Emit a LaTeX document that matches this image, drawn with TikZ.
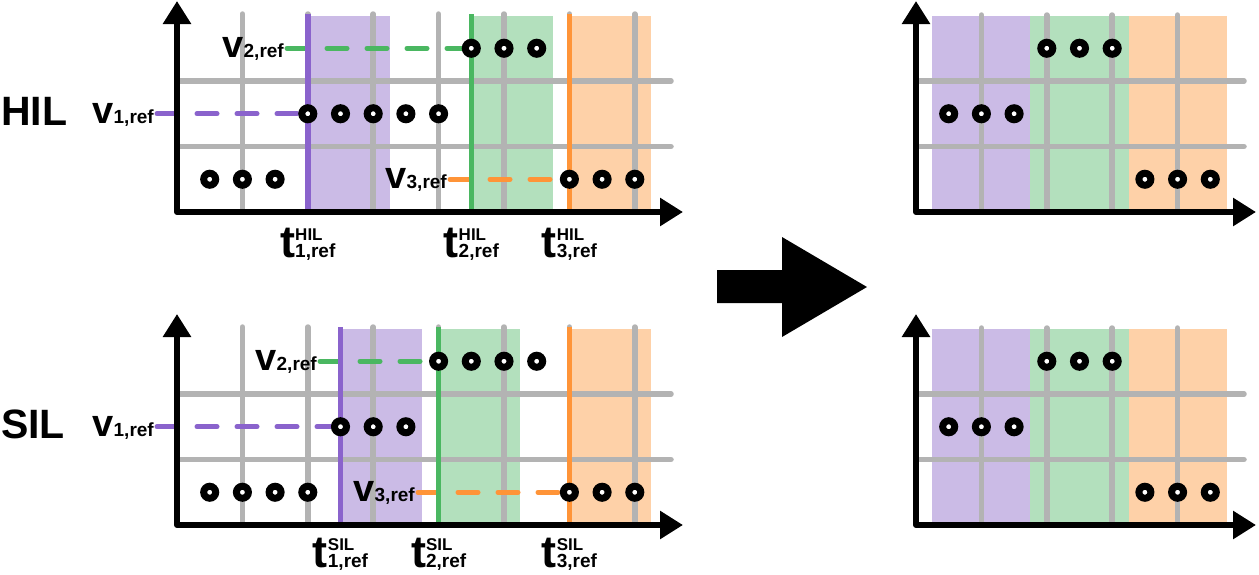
\documentclass[tikz,border=0pt]{standalone}
\usepackage{fontspec}
\setmainfont{Liberation Sans}
\usetikzlibrary{arrows.meta}
\definecolor{pline}{HTML}{8A63CC}
\definecolor{pfill}{HTML}{CBBBE6}
\definecolor{gline}{HTML}{4AB761}
\definecolor{gfill}{HTML}{B3E0BD}
\definecolor{oline}{HTML}{FF9438}
\definecolor{ofill}{HTML}{FED1A8}
\definecolor{gridgray}{HTML}{B3B3B3}
\newcommand\mytlab[2]{{\fontsize{45}{45}\selectfont t}\rlap{\raisebox{16.5pt}{\fontsize{17}{17}\selectfont #1}}{\fontsize{19}{19}\selectfont #2,ref}}
\newcommand\myvlab[1]{{\fontsize{38}{38}\selectfont v}{\fontsize{19}{19}\selectfont #1,ref}}
\tikzset{
  gridline/.style={line width=5.5pt, draw=gridgray, line cap=round},
  axisline/.style={line width=6pt, line join=round, arrows={Triangle[length=23pt,width=27pt]-Triangle[length=23pt,width=27pt]}},
  dot/.style={circle, draw=black, fill=white, line width=7pt, minimum size=12pt, inner sep=0pt},
  refline/.style={line width=5.5pt},
  dashref/.style={line width=5pt, line cap=round, dash pattern=on 20pt off 20pt},
  vlabel/.style={anchor=base east, inner sep=0pt, font=\bfseries},
  tlabel/.style={anchor=base, inner sep=0pt, font=\bfseries},
  biglabel/.style={anchor=base west, inner sep=0pt, font=\fontsize{41}{41}\selectfont\bfseries}
}
\begin{document}
\begin{tikzpicture}[x=1pt,y=-1pt]
\useasboundingbox (0,0) rectangle (1259,574);
% ---------- fills
% HIL left
\fill[pfill] (307.8,16) rectangle (389.55,212);
\fill[gfill] (471.3,16) rectangle (553.05,212);
\fill[ofill] (569.4,16) rectangle (651.15,212);
% SIL left
\fill[pfill] (340.5,329) rectangle (422.25,525);
\fill[gfill] (438.6,329) rectangle (520.35,525);
\fill[ofill] (569.4,329) rectangle (651.15,525);
% right charts
\foreach \oy in {212,525}{
  \fill[pfill] (932.35,\oy-196) rectangle (1030.45,\oy);
  \fill[gfill] (1030.45,\oy-196) rectangle (1128.55,\oy);
  \fill[ofill] (1128.55,\oy-196) rectangle (1226.65,\oy);
}
% ---------- grids
\foreach \oy in {212,525}{
  \foreach \gx in {242.4,307.8,373.2,438.6,504.0,569.4,634.8}
    \draw[gridline] (\gx,\oy-198) -- (\gx,\oy);
  \foreach \gy in {65.5,131}
    \draw[gridline] (177,\oy-\gy) -- (671,\oy-\gy);
  \foreach \gx in {981.4,1046.8,1112.2,1177.6}
    \draw[gridline] (\gx,\oy-197) -- (\gx,\oy);
  \foreach \gy in {65.5,131}
    \draw[gridline] (916,\oy-\gy) -- (1244,\oy-\gy);
}
% ---------- circle positions
\foreach \k/\r in {0/0,1/0,2/0,3/1,4/1,5/1,6/1,7/1,8/2,9/2,10/2,11/0,12/0,13/0}
  \coordinate (hp\k) at ({177+32.7*(\k+1)},{212-32.75-65.5*\r});
\foreach \k/\r in {0/0,1/0,2/0,3/0,4/1,5/1,6/1,7/2,8/2,9/2,10/2,11/0,12/0,13/0}
  \coordinate (sp\k) at ({177+32.7*(\k+1)},{525-32.75-65.5*\r});
% ---------- dashed reference lines
\coordinate (hv1) at (157,113.75);
\coordinate (hv2) at (287,48.25);
\coordinate (hv3) at (450,179.25);
\coordinate (sv1) at (157,426.75);
\coordinate (sv2) at (320,361.25);
\coordinate (sv3) at (418,492.25);
\draw[dashref,pline] (hv1) -- (hp3);
\draw[dashref,gline] (hv2) -- (hp8);
\draw[dashref,oline] (hv3) -- (hp11);
\draw[dashref,pline] (sv1) -- (sp4);
\draw[dashref,gline] (sv2) -- (sp7);
\draw[dashref,oline] (sv3) -- (sp11);
% ---------- reference time lines
\coordinate (ht1) at (307.8,212); \coordinate (ht1top) at (307.8,14);
\coordinate (ht2) at (471.3,212); \coordinate (ht2top) at (471.3,14);
\coordinate (ht3) at (569.4,212); \coordinate (ht3top) at (569.4,14);
\coordinate (st1) at (340.5,525); \coordinate (st1top) at (340.5,327);
\coordinate (st2) at (438.6,525); \coordinate (st2top) at (438.6,327);
\coordinate (st3) at (569.4,525); \coordinate (st3top) at (569.4,327);
\draw[refline,pline] (ht1top) -- (ht1);
\draw[refline,gline] (ht2top) -- (ht2);
\draw[refline,oline] (ht3top) -- (ht3);
\draw[refline,pline] (st1top) -- (st1);
\draw[refline,gline] (st2top) -- (st2);
\draw[refline,oline] (st3top) -- (st3);
% ---------- axes
\coordinate (hay) at (177,1);   \coordinate (hao) at (177,212); \coordinate (hax) at (683,212);
\coordinate (say) at (177,314); \coordinate (sao) at (177,525); \coordinate (sax) at (683,525);
\coordinate (ray) at (916,1);   \coordinate (rao) at (916,212); \coordinate (rax) at (1256,212);
\coordinate (qay) at (916,314); \coordinate (qao) at (916,525); \coordinate (qax) at (1256,525);
\draw[axisline] (hay) -- (hao) -- (hax);
\draw[axisline] (say) -- (sao) -- (sax);
\draw[axisline] (ray) -- (rao) -- (rax);
\draw[axisline] (qay) -- (qao) -- (qax);
% ---------- circles
\foreach \k in {0,...,13} \node[dot] (hc\k) at (hp\k) {};
\foreach \k in {0,...,13} \node[dot] (sc\k) at (sp\k) {};
\foreach \oy/\n in {212/r,525/q}{
  \foreach \k/\r in {0/1,1/1,2/1,3/2,4/2,5/2,6/0,7/0,8/0}
    \node[dot] (\n c\k) at ({916+32.7*(\k+1)},{\oy-32.75-65.5*\r}) {};
}
% ---------- labels
\node[biglabel] (hil) at (1,125) {HIL};
\node[biglabel] (sil) at (1,438) {SIL};
\node[vlabel] (hv1l) at (154,123.25) {\myvlab{1}};
\node[vlabel] (hv2l) at (284,57.75) {\myvlab{2}};
\node[vlabel] (hv3l) at (447,188.75) {\myvlab{3}};
\node[vlabel] (sv1l) at (154,436.25) {\myvlab{1}};
\node[vlabel] (sv2l) at (317,370.75) {\myvlab{2}};
\node[vlabel] (sv3l) at (415,501.75) {\myvlab{3}};
\node[tlabel] (ht1l) at (307.8,257) {\mytlab{HIL}{1}};
\node[tlabel] (ht2l) at (471.3,257) {\mytlab{HIL}{2}};
\node[tlabel] (ht3l) at (569.4,257) {\mytlab{HIL}{3}};
\node[tlabel] (st1l) at (340.5,567) {\mytlab{SIL}{1}};
\node[tlabel] (st2l) at (438.6,567) {\mytlab{SIL}{2}};
\node[tlabel] (st3l) at (569.4,567) {\mytlab{SIL}{3}};
% ---------- big arrow
\fill[black] (717,270) -- (782,270) -- (782,237) -- (867,287) -- (782,337) -- (782,303) -- (717,303) -- cycle;
\end{tikzpicture}
\end{document}
